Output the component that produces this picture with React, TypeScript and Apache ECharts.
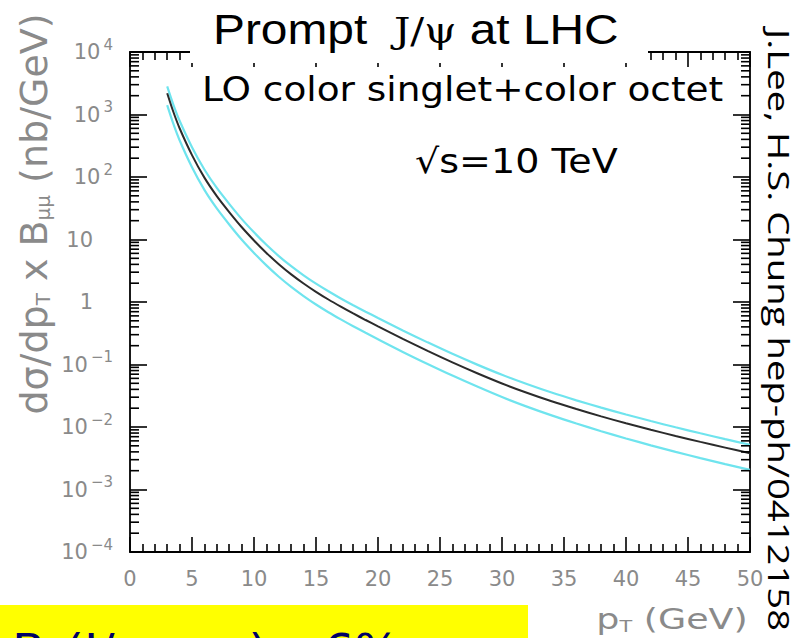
import React, { useEffect, useRef } from "react";
import * as echarts from "echarts";

// transverse momentum (GeV)
const pT = [3, 3.5, 4, 5, 6, 7, 8, 9, 10, 11, 12, 13, 14, 15, 16, 17, 18, 19, 20, 22, 24, 26, 28, 30, 32, 34, 36, 38, 40, 42, 44, 46, 48, 50];
// dσ/dpT x Bμμ (nb/GeV): central curve and the two band edges
const central = [2188, 1096, 603, 224, 97.7, 49.5, 27.5, 15.85, 9.66, 6.1, 4.03, 2.77, 1.98, 1.456, 1.096, 0.843, 0.656, 0.515, 0.407, 0.257, 0.165, 0.108, 0.0724, 0.0497, 0.0353, 0.0258, 0.0194, 0.0148, 0.01148, 0.00904, 0.00719, 0.00578, 0.00468, 0.0038];
const upperBand = [2818, 1429, 794, 300, 131.8, 66.8, 37.2, 21.4, 13.03, 8.22, 5.43, 3.74, 2.67, 1.963, 1.483, 1.14, 0.889, 0.7, 0.555, 0.351, 0.226, 0.148, 0.0995, 0.0684, 0.0488, 0.0356, 0.0267, 0.0204, 0.01585, 0.01245, 0.00989, 0.00793, 0.0064, 0.00519];
const lowerBand = [1413, 706, 387, 143.2, 62.2, 31.4, 17.4, 10.0, 6.1, 3.85, 2.535, 1.746, 1.245, 0.912, 0.686, 0.527, 0.409, 0.321, 0.2535, 0.159, 0.1019, 0.0664, 0.0443, 0.0301, 0.0212, 0.01535, 0.01138, 0.00857, 0.00656, 0.00509, 0.004, 0.003177, 0.002553, 0.002065];

// axis settings
const xMin = 0;
const xMax = 50;
const xStep = 5;
const yMinExp = -4;
const yMaxExp = 4;
const minorMantissas = [2, 3, 4, 5, 6, 7, 8, 9];

// texts
const titleText = "Prompt  {g|J/ψ} at LHC";
const subtitleText = "LO color singlet+color octet";
const energyText = "√s=10 TeV";
const creditText = "J.Lee, H.S. Chung hep-ph/0412158";
const yNameText = "dσ/dp{s|T} x B{s|μμ} (nb/GeV)";
const xNameText = "p{s|T} (GeV)";
const noteText = "Br(J/ψ→μμ) ~6%";

const GRAY = "#8a8a8a";
const LABEL_FONT = "DejaVu Sans";
const TICK = "#000";

export default function App() {
  const ref = useRef<HTMLDivElement>(null);

  useEffect(() => {
    if (!ref.current) return;
    const chart = echarts.init(ref.current, undefined, { renderer: "svg" });

    const minorVals: number[] = [];
    for (let k = yMinExp; k < yMaxExp; k++) {
      for (const m of minorMantissas) minorVals.push(m * Math.pow(10, k));
    }
    const minorTickSeries = (xv: number, dir: number) => ({
      type: "scatter",
      xAxisIndex: 0,
      yAxisIndex: 0,
      silent: true,
      clip: false,
      z: 6,
      symbol: "rect",
      symbolSize: [9, 1.6],
      symbolOffset: [dir * 4.5, 0],
      itemStyle: { color: TICK, opacity: 1 },
      data: minorVals.map((v) => [xv, v]),
    });

    const tickLine = { color: TICK, width: 1.6 };
    const xAxisCommon = {
      type: "value",
      min: xMin,
      max: xMax,
      interval: xStep,
      axisLine: { show: true, onZero: false, lineStyle: { color: "#000", width: 1.8 } },
      axisTick: { show: true, inside: true, length: 15, lineStyle: tickLine },
      minorTick: { show: true, splitNumber: 5, length: 8, lineStyle: tickLine },
      splitLine: { show: false },
      minorSplitLine: { show: false },
    };
    const yAxisCommon = {
      type: "log",
      logBase: 10,
      min: Math.pow(10, yMinExp),
      max: Math.pow(10, yMaxExp),
      splitNumber: yMaxExp - yMinExp,
      axisLine: { show: true, onZero: false, lineStyle: { color: "#000", width: 1.8 } },
      axisTick: { show: true, inside: true, length: 17, lineStyle: tickLine },
      splitLine: { show: false },
    };

    const mkLine = (name: string, vals: number[], color: string, width: number) => ({
      name,
      type: "line",
      xAxisIndex: 0,
      yAxisIndex: 0,
      data: pT.map((x, i) => [x, vals[i]]),
      showSymbol: false,
      smooth: 0.3,
      lineStyle: { color, width },
      z: 3,
    });

    const option: any = {
      animation: false,
      backgroundColor: "#fff",
      grid: { left: 130, right: 50, top: 52, bottom: 86, containLabel: false },
      xAxis: [
        {
          ...xAxisCommon,
          position: "bottom",
          axisLabel: { show: true, color: GRAY, fontSize: 21, fontFamily: LABEL_FONT, margin: 16 },
        },
        { ...xAxisCommon, position: "top", axisLabel: { show: false } },
      ],
      yAxis: [
        {
          ...yAxisCommon,
          position: "left",
          axisLabel: {
            show: true,
            margin: 17,
            color: GRAY,
            fontFamily: LABEL_FONT,
            formatter: (v: number) => {
              const k = Math.round(Math.log10(v));
              if (k === 1) return "{p|10}";
              if (k === 0) return "{p|1}";
              return "{n|10}{e|" + (k < 0 ? "−" + -k : String(k)) + "}";
            },
            rich: {
              n: { fontSize: 21, lineHeight: 30, color: GRAY, fontFamily: LABEL_FONT },
              e: { fontSize: 15, lineHeight: 12, verticalAlign: "top", color: GRAY, fontFamily: LABEL_FONT, padding: [0, 0, 0, 3] },
              p: { fontSize: 21, lineHeight: 30, color: GRAY, fontFamily: LABEL_FONT, padding: [0, 20, 0, 0] },
            },
          },
        },
        { ...yAxisCommon, position: "right", axisLabel: { show: false } },
      ],
      series: [
        minorTickSeries(xMin, 1),
        minorTickSeries(xMax, -1),
        mkLine("upper", upperBand, "#6fe4ee", 2.2),
        mkLine("lower", lowerBand, "#6fe4ee", 2.2),
        mkLine("central", central, "#2b2b2b", 2),
      ],
      graphic: [
        { type: "rect", z: 100, shape: { x: 190, y: 0, width: 458, height: 63 }, style: { fill: "#fff" } },
        { type: "rect", z: 100, shape: { x: 190, y: 67, width: 546, height: 44 }, style: { fill: "#fff" } },
        {
          type: "text",
          z: 101,
          x: 213,
          y: 30,
          scaleX: 1.14,
          style: {
            text: titleText,
            fill: "#000",
            fontSize: 42,
            fontFamily: "Liberation Sans",
            align: "left",
            verticalAlign: "middle",
            rich: { g: { fontSize: 36, fontFamily: "DejaVu Serif", fill: "#000" } },
          },
        },
        {
          type: "text",
          z: 101,
          x: 202,
          y: 89,
          scaleX: 1.1,
          style: { text: subtitleText, fill: "#000", fontSize: 34, fontFamily: "DejaVu Sans", align: "left", verticalAlign: "middle" },
        },
        {
          type: "text",
          z: 101,
          x: 415,
          y: 162,
          scaleX: 1.12,
          style: { text: energyText, fill: "#000", fontSize: 34, fontFamily: "DejaVu Sans", align: "left", verticalAlign: "middle" },
        },
        {
          type: "text",
          z: 101,
          x: 779,
          y: 330,
          rotation: -Math.PI / 2,
          scaleX: 1.32,
          style: { text: creditText, fill: "#000", fontSize: 29, fontFamily: "Open Sans", align: "center", verticalAlign: "middle" },
        },
        {
          type: "text",
          z: 101,
          x: 34,
          y: 214,
          rotation: Math.PI / 2,
          style: {
            text: yNameText,
            fill: GRAY,
            fontSize: 38,
            fontFamily: LABEL_FONT,
            align: "center",
            verticalAlign: "middle",
            rich: { s: { fontSize: 20, fill: GRAY, fontFamily: LABEL_FONT, verticalAlign: "bottom", lineHeight: 34 } },
          },
        },
        {
          type: "text",
          z: 101,
          x: 672,
          y: 620,
          scaleX: 1.3,
          style: {
            text: xNameText,
            fill: GRAY,
            fontSize: 28,
            fontFamily: LABEL_FONT,
            align: "center",
            verticalAlign: "middle",
            rich: { s: { fontSize: 16, fill: GRAY, fontFamily: LABEL_FONT, verticalAlign: "bottom", lineHeight: 28 } },
          },
        },
        { type: "rect", z: 100, shape: { x: 0, y: 605, width: 528, height: 40 }, style: { fill: "#ffff00" } },
        {
          type: "text",
          z: 101,
          x: 12,
          y: 629,
          scaleX: 1.1,
          style: { text: noteText, fill: "#000066", fontSize: 44, fontFamily: "DejaVu Sans", align: "left", verticalAlign: "top" },
        },
      ],
    };

    chart.setOption(option);
    return () => chart.dispose();
  }, []);

  return (
    <div
      ref={ref}
      style={{ position: "fixed", left: 0, top: 0, width: 800, height: 638, overflow: "hidden", background: "#fff" }}
    />
  );
}
